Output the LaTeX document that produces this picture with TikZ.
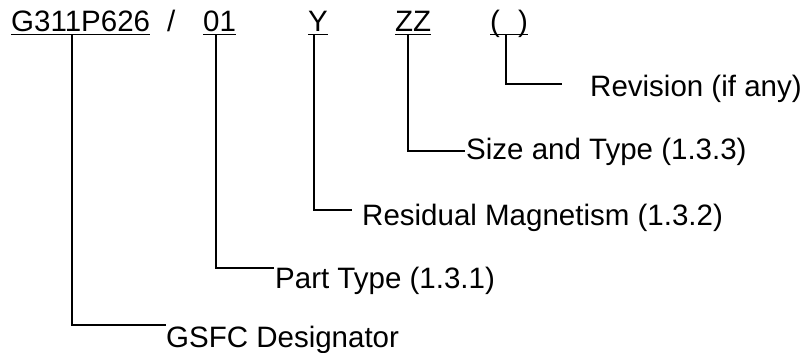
\documentclass[tikz,border=0pt]{standalone}
\usepackage{fontspec}
\setmainfont{Liberation Sans}
\usetikzlibrary{positioning}

\begin{document}
\begin{tikzpicture}[x=1pt, y=-1pt,
            code/.style={inner sep=0pt, anchor=base west, font=\fontsize{29.5}{34}\selectfont},
            lbl/.style={inner sep=0pt, anchor=base west, font=\fontsize{29.5}{34}\selectfont},
            lead/.style={line width=1.8pt},
            uline/.style={line width=1.6pt}
        ]
        \useasboundingbox (0,0) rectangle (807,353);

        % The number
        \node[code] (gsfc) at (11,32) {G311P626};
        \node[code] (slash) at (167,32) {/};
        \node[code] (part) at (203,32) {01};
        \node[code] (resid) at (308,32) {Y};
        \node[code] (size) at (395,32) {ZZ};
        \node[code] (rev) at (490,32) {(\hspace{18pt})};

        \foreach \n in {gsfc,part,resid,size,rev}
            \draw[uline] ([yshift=-2.5pt]\n.base west) -- ([yshift=-2.5pt]\n.base east);

        % Labels
        \node[lbl] (gsfcl) at (166,347) {GSFC Designator};
        \node[lbl] (partl) at (275,288) {Part Type (1.3.1)};
        \node[lbl] (residl) at (362,225) {Residual Magnetism (1.3.2)};
        \node[lbl] (sizel) at (466,160) {Size and Type (1.3.3)};
        \node[lbl] (revl) at (590,96) {Revision (if any)};

        % Leaders
        \draw[lead] ([xshift=61pt,yshift=-2.5pt]gsfc.base west) |- ([yshift=22pt]gsfcl.base west);
        \draw[lead] ([xshift=13pt,yshift=-2.5pt]part.base west) |- ([xshift=-1pt,yshift=20pt]partl.base west);
        \draw[lead] ([xshift=6pt,yshift=-2.5pt]resid.base west) |- ([xshift=-10pt,yshift=15pt]residl.base west);
        \draw[lead] ([xshift=13pt,yshift=-2.5pt]size.base west) |- ([xshift=-1pt,yshift=9pt]sizel.base west);
        \draw[lead] ([xshift=16pt,yshift=-2.5pt]rev.base west) |- ([xshift=-28pt,yshift=12pt]revl.base west);

\end{tikzpicture}
\end{document}
